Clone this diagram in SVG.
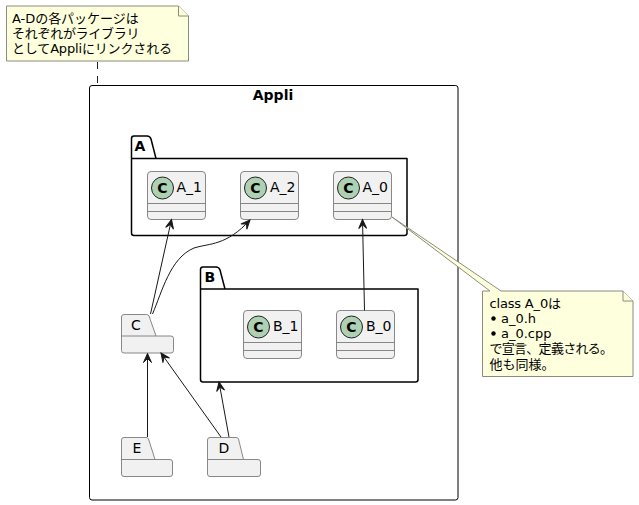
<svg xmlns="http://www.w3.org/2000/svg" width="639" height="505" viewBox="0 0 639 505">
<defs>
<style>
text{font-family:"DejaVu Sans","Noto Sans CJK JP",sans-serif;fill:#000}
.t{font-size:13px}
.u{font-size:14px}
.b{font-size:14px;font-weight:bold}
.n{fill:#FEFFDD;stroke:#8C8C7C;stroke-width:1}
.p{fill:none;stroke:#000;stroke-width:1.5;stroke-linejoin:round}
.c{fill:#F1F1F1;stroke:#7a7a7a;stroke-width:.9}
.l{stroke:#7a7a7a;stroke-width:.9;fill:none}
.k{fill:#ADD1B2;stroke:#222;stroke-width:1}
.e{fill:none;stroke:#181818;stroke-width:1}
.h{fill:#181818;stroke:#181818;stroke-width:1}
</style>
<g id="cls">
<rect class="c" x="0" y="0" width="58" height="48" rx="3.5"/>
<path class="l" d="M0 32H58M0 40H58"/>
<circle class="k" cx="15" cy="16.500" r="11"/>
<text x="15" y="21.500" text-anchor="middle" style="font-size:14px;font-weight:bold;fill:#000">C</text>
</g>
<marker id="ah" viewBox="-12 -7 14 14" refX="0" refY="0" markerWidth="14" markerHeight="14" markerUnits="userSpaceOnUse" orient="auto">
<path class="h" d="M0 0L-9 -4L-5 0L-9 4Z"/>
</marker>
</defs>
<rect width="639" height="505" fill="#fff"/>
<g id="Appli">
<rect x="89.5" y="85.5" width="368.5" height="414.5" rx="2.5" fill="none" stroke="#000" stroke-width="1"/>
<text class="b" x="273" y="100" text-anchor="middle">Appli</text>
</g>
<g id="A">
<path class="p" d="M134 136H147Q150 136 151 139L156 158.5H407V233Q407 235.5 404.500 235.500H134Q131.500 235.500 131.500 233V138.500Q131.500 136 134 136ZM131.500 158.500H156"/>
<text class="b" x="134.500" y="151">A</text>
</g>
<g id="B">
<path class="p" d="M203 267H216Q219 267 220 270L225 289H418V379.500Q418 382 415.500 382H203Q200.500 382 200.500 379.500V269.500Q200.500 267 203 267ZM200.500 289H225"/>
<text class="b" x="204.500" y="282">B</text>
</g>
<g id="A_1"><use href="#cls" x="147.5" y="171.500"/><text class="u" x="176.500" y="192">A_1</text></g>
<g id="A_2"><use href="#cls" x="240.500" y="171.500"/><text class="u" x="270" y="192">A_2</text></g>
<g id="A_0"><use href="#cls" x="333.500" y="171.500"/><text class="u" x="362.500" y="192">A_0</text></g>
<g id="B_1"><use href="#cls" x="243.500" y="310.500"/><text class="u" x="273" y="331">B_1</text></g>
<g id="B_0"><use href="#cls" x="336.500" y="310.500"/><text class="u" x="366" y="331">B_0</text></g>
<g id="C">
<path class="c" d="M124 314.500H146.500Q148.500 314.500 149 316L156 336H171Q173.500 336 173.500 338.500V350.500Q173.500 353 171 353H124Q121.500 353 121.500 350.500V317Q121.500 314.500 124 314.500Z"/>
<path class="l" d="M121.500 336H156"/>
<text class="u" x="131" y="330">C</text>
</g>
<g id="E">
<path class="c" d="M124 437.500H146Q148 437.500 148.500 439L155 459.500H170Q172.500 459.500 172.500 462V474Q172.500 476.500 170 476.500H124Q121.500 476.500 121.500 474V440Q121.500 437.500 124 437.500Z"/>
<path class="l" d="M121.500 459.500H155"/>
<text class="u" x="132.500" y="453">E</text>
</g>
<g id="D">
<path class="c" d="M210 437.500H236Q238 437.500 238.500 439L243.500 459.500H258Q260.500 459.500 260.500 462V474Q260.500 476.500 258 476.500H210Q207.500 476.500 207.500 474V440Q207.500 437.500 210 437.500Z"/>
<path class="l" d="M207.500 459.500H243.500"/>
<text class="u" x="218.500" y="453">D</text>
</g>
<g id="note1">
<path class="n" d="M6.500 6H178.500L188.500 16V61H6.500Z"/>
<path class="n" d="M178.500 6V16H188.500"/>
<text class="t" x="12" y="23" textLength="126.700">A-Dの各パッケージは</text>
<text class="t" x="12" y="38" textLength="127.500">それぞれがライブラリ</text>
<text class="t" x="12" y="53" textLength="160">としてAppliにリンクされる</text>
</g>
<g id="note2">
<path class="n" d="M392 217L490 291H482.500V376.500H633V301L623 291H501Z"/>
<path class="n" d="M623 291V301H633"/>
<text class="t" x="489.500" y="308" textLength="71.500">class A_0は</text>
<circle cx="493.500" cy="318.500" r="2.200"/>
<text class="t" x="501" y="323">a_0.h</text>
<circle cx="493.500" cy="333.500" r="2.200"/>
<text class="t" x="501" y="338">a_0.cpp</text>
<text class="t" x="489.500" y="353" textLength="123.500">で宣言、定義される。</text>
<text class="t" x="489.500" y="369">他も同様。</text>
</g>
<g id="connectors">
<path d="M97.500 62V85" fill="none" stroke="#222" stroke-width="1" stroke-dasharray="7 7"/>
<path class="e" marker-end="url(#ah)" d="M150.500 314L171.500 219.500"/>
<path class="e" marker-end="url(#ah)" d="M152.500 314C162 292 170 258 194 248C210 243 226 246 250 220"/>
<path class="e" marker-end="url(#ah)" d="M364.500 310.500L362.500 219.500"/>
<path class="e" marker-end="url(#ah)" d="M147.500 437V353.500"/>
<path class="e" marker-end="url(#ah)" d="M221 437L161 353"/>
<path class="e" marker-end="url(#ah)" d="M229 437L219 382"/>
</g>
</svg>
